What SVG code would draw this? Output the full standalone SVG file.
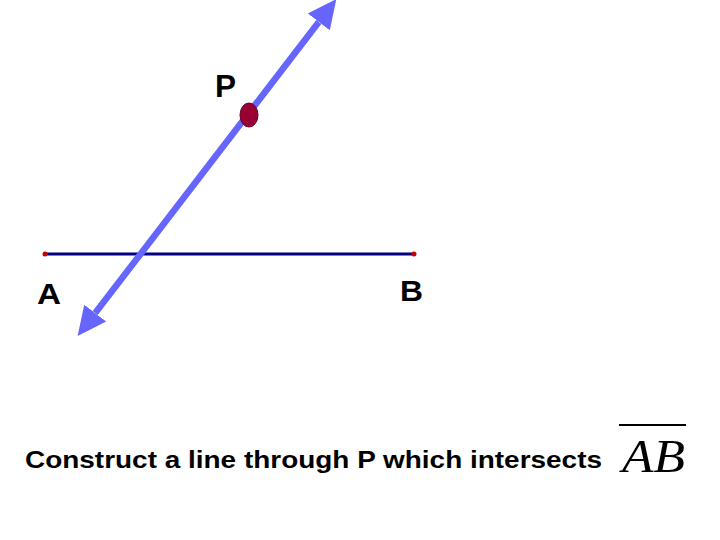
<svg xmlns="http://www.w3.org/2000/svg" width="720" height="540" viewBox="0 0 720 540">
<style>
.lbl{font-family:"Liberation Sans",Arial,sans-serif;font-weight:bold;fill:#000}
.seg{stroke:#000080;stroke-width:3}
.pt{fill:#cc0000}
.ray{stroke:#6666ff;stroke-width:6.5;fill:none}
</style>
<defs>
<marker id="ah" markerUnits="userSpaceOnUse" markerWidth="30" markerHeight="30" refX="0" refY="12" orient="auto-start-reverse" viewBox="0 0 26 24">
<path d="M0,0 L25,12 L0,24 Z" fill="#6666ff"/>
</marker>
</defs>
<rect width="720" height="540" fill="#fff"/>
<g id="connectors">
<line id="segAB" class="seg" x1="45" y1="254" x2="414" y2="254"/>
<line id="lineP" class="ray" x1="95.2" y1="313.1" x2="318.8" y2="21.9" marker-start="url(#ah)" marker-end="url(#ah)"/>
</g>
<g id="A">
<circle class="pt" cx="45" cy="254" r="2.5"/>
<text class="lbl" x="37" y="304" font-size="30" textLength="24" lengthAdjust="spacingAndGlyphs">A</text>
</g>
<g id="B">
<circle class="pt" cx="414" cy="254" r="2.5"/>
<text class="lbl" x="400" y="301" font-size="30" textLength="23" lengthAdjust="spacingAndGlyphs">B</text>
</g>
<g id="P">
<ellipse cx="249" cy="115" rx="9" ry="12" fill="#990033" stroke="#660022" stroke-width="1"/>
<text class="lbl" x="215" y="97" font-size="32" textLength="21" lengthAdjust="spacingAndGlyphs">P</text>
</g>
<g id="caption">
<text class="lbl" x="25" y="468" font-size="23.5" textLength="577" lengthAdjust="spacingAndGlyphs">Construct a line through P which intersects</text>
<line x1="619" y1="425" x2="686" y2="425" stroke="#000" stroke-width="2"/>
<text x="622" y="472" font-family="'Liberation Serif','Times New Roman',serif" font-style="italic" font-size="47" fill="#000" textLength="63" lengthAdjust="spacingAndGlyphs">AB</text>
</g>
</svg>
